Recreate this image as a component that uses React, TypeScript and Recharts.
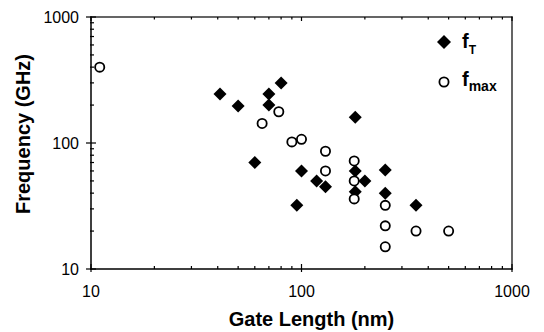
import React from 'react';
import { ScatterChart, Scatter, XAxis, YAxis, Legend, ReferenceArea } from 'recharts';

// Gate length (nm) vs frequency (GHz)
const ftGate = [41, 50, 70, 70, 80, 60, 100, 95, 118, 130, 180, 180, 200, 180, 250, 250, 350];
const ftFreq = [245, 197, 245, 200, 300, 70, 60, 32, 50, 45, 160, 60, 50, 41, 61, 40, 32];

const fmaxGate = [11, 65, 78, 90, 100, 130, 130, 178, 178, 178, 250, 250, 250, 350, 500];
const fmaxFreq = [400, 143, 177, 102, 107, 86, 60, 72, 50, 36, 32, 22, 15, 20, 20];

const xTicks = [10, 20, 30, 40, 50, 60, 70, 80, 90, 100, 200, 300, 400, 500, 600, 700, 800, 900, 1000];
const yTicks = [10, 20, 30, 40, 50, 60, 70, 80, 90, 100, 200, 300, 400, 500, 600, 700, 800, 900, 1000];

const FONT = '"Liberation Sans", Arial, sans-serif';

const ftData = ftGate.map((g, i) => ({ x: g, y: ftFreq[i] }));
const fmaxData = fmaxGate.map((g, i) => ({ x: g, y: fmaxFreq[i] }));

const isDecade = (v: number) => Math.abs(Math.log10(v) - Math.round(Math.log10(v))) < 1e-9;

const Diamond = ({ cx, cy }: any) => {
  const r = 6.5;
  return <polygon points={`${cx},${cy - r} ${cx + r},${cy} ${cx},${cy + r} ${cx - r},${cy}`} fill="#000" />;
};

const Ring = ({ cx, cy }: any) => <circle cx={cx} cy={cy} r={4.6} fill="#fff" stroke="#000" strokeWidth={1.8} />;

// ticks drawn as thin rects so they show regardless of stroke handling
const BottomTick = ({ x, y, payload }: any) => {
  const major = isDecade(payload.value);
  return (
    <g>
      <rect x={x - 0.6} y={major ? y - 5 : y - 3} width={1.2} height={major ? 8 : 3} fill="#000" />
      <rect x={x - 0.6} y={17} width={1.2} height={major ? 4 : 2.5} fill="#000" />
      {major && (
        <text x={x} y={y + 28} textAnchor="middle" fontSize={16} fontFamily={FONT} fill="#000">
          {payload.value}
        </text>
      )}
    </g>
  );
};

const LeftTick = ({ x, y, payload }: any) => {
  const major = isDecade(payload.value);
  return (
    <g>
      <rect x={major ? x - 5 : x - 1} y={y - 0.6} width={major ? 10 : 4} height={1.2} fill="#000" />
      {major && (
        <text x={x - 12} y={y} dy="0.36em" textAnchor="end" fontSize={16} fontFamily={FONT} fill="#000">
          {payload.value}
        </text>
      )}
    </g>
  );
};

const XTitle = ({ viewBox }: any) => (
  <text
    x={viewBox.x + viewBox.width / 2 + 10}
    y={viewBox.y + viewBox.height - 6}
    textAnchor="middle"
    fontSize={20}
    fontWeight="bold"
    fontFamily={FONT}
    fill="#000"
  >
    Gate Length (nm)
  </text>
);

const YTitle = ({ viewBox }: any) => {
  const cx = 30;
  const cy = viewBox.y + viewBox.height / 2 - 9;
  return (
    <text
      x={cx}
      y={cy}
      transform={`rotate(-90, ${cx}, ${cy})`}
      textAnchor="middle"
      fontSize={20}
      fontWeight="bold"
      fontFamily={FONT}
      fill="#000"
    >
      Frequency (GHz)
    </text>
  );
};

const Frame = (props: any) => {
  const { x, y, width, height } = props;
  return (
    <g>
      <rect x={x - 0.75} y={y - 0.6} width={width + 1.35} height={1.2} fill="#000" />
      <rect x={x - 0.75} y={y + height - 0.75} width={width + 1.35} height={1.5} fill="#000" />
      <rect x={x - 0.75} y={y - 0.6} width={1.5} height={height + 1.35} fill="#000" />
      <rect x={x + width - 0.6} y={y - 0.6} width={1.2} height={height + 1.35} fill="#000" />
    </g>
  );
};

const renderLegend = () => (
  <svg width={90} height={72} style={{ display: 'block' }}>
    <polygon points="14,9 21,16 14,23 7,16" fill="#000" />
    <text x={32} y={22} fontSize={20} fontWeight="bold" fontFamily={FONT}>
      f
      <tspan fontSize={12} dy={6}>T</tspan>
    </text>
    <circle cx={14} cy={56} r={4.6} fill="#fff" stroke="#000" strokeWidth={1.8} />
    <text x={32} y={60} fontSize={20} fontWeight="bold" fontFamily={FONT}>
      f
      <tspan fontSize={14} dy={5}>max</tspan>
    </text>
  </svg>
);

export default function App() {
  return (
    <div style={{ position: 'absolute', left: 0, top: 0, width: 544, height: 332, background: '#fff' }}>
      <ScatterChart width={544} height={332} margin={{ top: 17, right: 32, bottom: 0, left: 3 }}>
        <XAxis
          type="number"
          dataKey="x"
          scale="log"
          domain={[10, 1000]}
          ticks={xTicks}
          interval={0}
          height={63}
          tickSize={0}
          tickMargin={0}
          tickLine={false}
          axisLine={false}
          tick={<BottomTick />}
          label={<XTitle />}
          allowDataOverflow
        />
        <YAxis
          type="number"
          dataKey="y"
          scale="log"
          domain={[10, 1000]}
          ticks={yTicks}
          interval={0}
          width={88}
          tickSize={0}
          tickMargin={0}
          tickLine={false}
          axisLine={false}
          tick={<LeftTick />}
          label={<YTitle />}
          allowDataOverflow
        />
        <ReferenceArea x1={10} x2={1000} y1={10} y2={1000} shape={<Frame />} ifOverflow="visible" />
        <Legend
          layout="horizontal"
          verticalAlign="middle"
          align="center"
          content={renderLegend}
          wrapperStyle={{ left: 430, top: 26, width: 90 }}
        />
        <Scatter name="fT" data={ftData} shape={<Diamond />} isAnimationActive={false} />
        <Scatter name="fmax" data={fmaxData} shape={<Ring />} isAnimationActive={false} />
      </ScatterChart>
    </div>
  );
}
